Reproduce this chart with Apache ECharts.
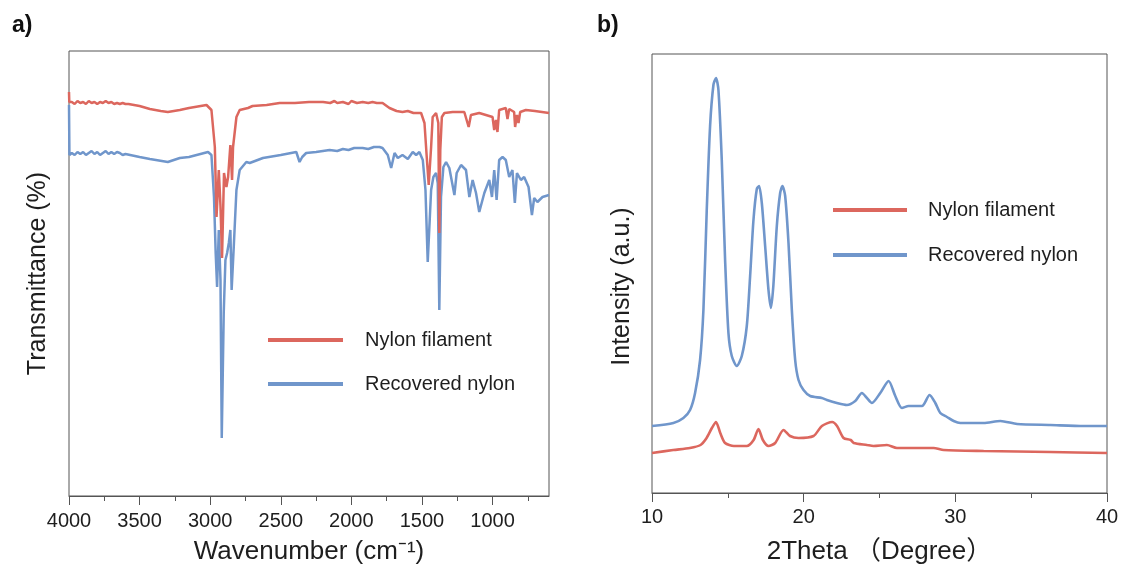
<!DOCTYPE html>
<html>
<head>
<meta charset="utf-8">
<script src="https://cdn.jsdelivr.net/npm/echarts@6/dist/echarts.min.js"></script>
<style>html,body{margin:0;padding:0;background:#fff;}#c{width:1123px;height:570px;}</style>
</head>
<body>
<div id="c"></div>
<script>
// ---------- DATA ----------
// FTIR panel (a): [wavenumber cm-1, transmittance (a.u.)]
var ftirNylonFilament = [
  [4000,404],[3998,394],[3980,394],[3960,392],[3940,395],[3920,393],[3900,394],[3880,392],[3860,395],[3840,393],
  [3820,394],[3800,392],[3780,394],[3760,393],[3740,395],[3720,393],[3700,394],[3680,392],[3660,393],[3640,392],
  [3620,393],[3600,392],[3579,392],[3500,390],[3427,387],[3350,385],[3300,384],[3215,386],[3150,388],[3026,391],
  [2991,386],[2967,349],[2955,279],[2939,326],[2927,290],[2916,238],[2902,323],[2885,309],[2873,319],[2857,351],
  [2845,316],[2838,349],[2814,379],[2791,386],[2732,388],[2720,387],[2700,390],[2600,391],[2508,393],[2400,393],
  [2300,394],[2200,394],[2150,393],[2120,395],[2100,393],[2060,394],[2020,392],[2000,395],[1960,393],[1920,394],
  [1880,393],[1850,394],[1820,393],[1779,393],[1730,388],[1680,385],[1638,384],[1600,385],[1560,383],[1506,383],
  [1482,373],[1466,339],[1452,311],[1435,349],[1424,379],[1400,383],[1384,373],[1377,263],[1370,346],[1359,379],
  [1341,383],[1282,384],[1200,384],[1169,369],[1153,381],[1094,383],[1000,379],[988,366],[976,376],[965,364],
  [953,386],[906,388],[894,377],[882,387],[847,384],[840,369],[827,381],[816,373],[804,384],[764,386],
  [700,385],[600,383]
];
var ftirRecoveredNylon = [
  [4000,391],[3997,341],[3980,343],[3960,341],[3940,344],[3920,342],[3900,344],[3880,341],[3860,343],[3840,345],
  [3820,342],[3800,344],[3780,341],[3760,343],[3740,345],[3720,342],[3700,344],[3680,342],[3660,344],[3640,343],
  [3620,341],[3600,342],[3500,339],[3427,337],[3300,334],[3215,338],[3150,339],[3015,344],[2991,341],[2973,299],
  [2961,243],[2951,209],[2939,266],[2927,216],[2918,58],[2904,183],[2892,236],[2880,243],[2868,253],[2857,266],
  [2848,206],[2833,249],[2814,306],[2791,326],[2744,334],[2720,333],[2626,338],[2500,341],[2390,344],[2367,334],
  [2348,339],[2320,343],[2250,344],[2154,346],[2100,345],[2060,347],[2020,346],[1980,348],[1920,348],[1880,347],
  [1840,349],[1800,349],[1779,348],[1742,341],[1718,328],[1694,343],[1671,338],[1638,341],[1600,337],[1565,344],
  [1541,341],[1518,344],[1494,336],[1475,306],[1459,234],[1447,234],[1435,306],[1419,319],[1400,323],[1388,313],
  [1377,186],[1365,299],[1348,329],[1329,334],[1306,328],[1270,301],[1254,323],[1223,331],[1188,326],[1164,299],
  [1141,316],[1117,303],[1094,284],[1058,303],[1023,316],[1004,299],[988,326],[971,296],[953,336],[929,339],
  [906,336],[882,319],[859,326],[842,293],[827,323],[799,316],[776,319],[745,309],[721,281],[705,298],
  [682,294],[646,299],[600,301]
];
// XRD panel (b): [2theta degree, intensity (a.u.)]
var xrdNylonFilament = [
  [10.0,40],[11.4,43],[12.5,45],[13.2,48],[13.6,55],[13.95,65],[14.22,71],[14.5,60],[14.82,50],[15.4,47],
  [16.25,47],[16.7,53],[17.02,64],[17.31,53],[17.68,47],[18.12,50],[18.67,63],[19.1,57],[19.66,55],[20.65,57],
  [21.2,67],[21.88,71],[22.2,67],[22.63,55],[23.1,53],[23.3,50],[24.17,48],[24.6,47],[25.49,48],[26.15,45],
  [28.57,45],[29.23,43],[31.87,42],[36.27,41],[40.0,40]
];
var xrdRecoveredNylon = [
  [10.0,67],[11.41,70],[12.07,75],[12.51,83],[12.84,100],[13.17,133],[13.39,183],[13.61,283],[13.83,367],[14.05,408],
  [14.22,415],[14.38,403],[14.6,333],[14.82,233],[15.04,160],[15.26,137],[15.59,127],[15.92,137],[16.25,167],[16.47,217],
  [16.69,273],[16.91,304],[17.06,307],[17.24,290],[17.46,247],[17.68,203],[17.84,185],[18.0,207],[18.23,267],[18.45,300],
  [18.6,307],[18.78,297],[19.0,250],[19.22,183],[19.44,133],[19.66,113],[19.99,103],[20.43,97],[21.2,95],[21.53,93],
  [22.19,90],[22.85,88],[23.4,92],[23.84,100],[24.17,95],[24.5,90],[25.05,100],[25.6,112],[26.04,97],[26.48,85],
  [26.92,87],[27.8,87],[28.3,98],[28.68,90],[29.01,80],[29.45,76],[29.89,72],[30.33,70],[31.87,70],[32.97,72],
  [34.07,69],[36.27,68],[38.47,67],[40.0,67]
];
// Tick labels
var ftirMajorTicks = [4000,3500,3000,2500,2000,1500,1000];
var ftirMinorTicks = [3750,3250,2750,2250,1750,1250,750];
var xrdTicks = [10,20,30,40];
var legendNames = ['Nylon filament','Recovered nylon'];

// ---------- CHART ----------
var RED = '#DC675E', BLUE = '#7096CB', AXIS = '#555555', TXT = '#1e1e1e';
var FONT = "'Liberation Sans', Arial, 'Noto Sans CJK SC', sans-serif";
var chart = echarts.init(document.getElementById('c'), null, {renderer:'canvas'});

var option = {
  backgroundColor:'#ffffff',
  animation:false,
  textStyle:{fontFamily:FONT},
  graphic:[
    {type:'text', left:12, top:14, style:{text:'a)', font:"bold 23px 'Liberation Sans', Arial, sans-serif", fill:'#111'}},
    {type:'text', left:597, top:14, style:{text:'b)', font:"bold 23px 'Liberation Sans', Arial, sans-serif", fill:'#111'}}
  ],
  grid:[
    {left:69, right:574, top:51, bottom:74, show:true, borderColor:AXIS, borderWidth:1, backgroundColor:'transparent'},
    {left:652, right:16, top:54, bottom:77, show:true, borderColor:AXIS, borderWidth:1, backgroundColor:'transparent'}
  ],
  legend:[
    {data:legendNames, orient:'vertical', left:263, top:325, icon:'rect', itemWidth:75, itemHeight:4, itemGap:24,
     selectedMode:false, textStyle:{fontSize:20, lineHeight:20, color:TXT, fontFamily:FONT, padding:[0,0,0,17]}},
    {data:legendNames, orient:'vertical', left:828, top:195, icon:'rect', itemWidth:74, itemHeight:4, itemGap:25,
     selectedMode:false, textStyle:{fontSize:20, lineHeight:20, color:TXT, fontFamily:FONT, padding:[0,0,0,16]}}
  ],
  xAxis:[
    {gridIndex:0, type:'value', min:600, max:4000, inverse:true, position:'bottom',
     axisLine:{show:true, lineStyle:{color:AXIS, width:1}},
     axisTick:{show:true, inside:false, length:9, customValues:ftirMajorTicks, lineStyle:{color:AXIS, width:1}},
     axisLabel:{show:true, customValues:ftirMajorTicks, fontSize:20, color:TXT, margin:15, fontFamily:FONT,
       formatter:function(v){ return String(v); }},
     splitLine:{show:false},
     name:'Wavenumber (cm\u207B\u00B9)', nameLocation:'middle', nameGap:43, nameMoveOverlap:false,
     nameTextStyle:{fontSize:26, color:TXT, fontFamily:FONT, lineHeight:26}},
    {gridIndex:0, type:'value', min:600, max:4000, inverse:true, position:'bottom',
     axisLine:{show:false},
     axisTick:{show:true, inside:false, length:5, customValues:ftirMinorTicks, lineStyle:{color:AXIS, width:1}},
     axisLabel:{show:false}, splitLine:{show:false}},
    {gridIndex:1, type:'value', min:10, max:40, interval:10, position:'bottom',
     axisLine:{show:true, lineStyle:{color:AXIS, width:1}},
     axisTick:{show:true, inside:false, length:9, lineStyle:{color:AXIS, width:1}},
     minorTick:{show:true, splitNumber:2, length:5, lineStyle:{color:AXIS, width:1}},
     axisLabel:{show:true, fontSize:20, color:TXT, margin:14, fontFamily:FONT,
       formatter:function(v){ return xrdTicks.indexOf(v) >= 0 ? String(v) : ''; }},
     splitLine:{show:false}, minorSplitLine:{show:false},
     name:'2Theta \uFF08Degree\uFF09', nameLocation:'middle', nameGap:46, nameMoveOverlap:false,
     nameTextStyle:{fontSize:26, color:TXT, fontFamily:FONT, lineHeight:26}}
  ],
  yAxis:[
    {gridIndex:0, type:'value', min:0, max:445, axisLine:{show:false}, axisTick:{show:false}, axisLabel:{show:false}, splitLine:{show:false},
     name:'Transmittance (%)', nameLocation:'middle', nameRotate:90, nameGap:18,
     nameTextStyle:{fontSize:25, color:TXT, fontFamily:FONT, lineHeight:25}},
    {gridIndex:1, type:'value', min:0, max:439, axisLine:{show:false}, axisTick:{show:false}, axisLabel:{show:false}, splitLine:{show:false},
     name:'Intensity (a.u.)', nameLocation:'middle', nameRotate:90, nameGap:17,
     nameTextStyle:{fontSize:25, color:TXT, fontFamily:FONT, lineHeight:25, padding:[0,26,0,0]}}
  ],
  series:[
    {name:'Recovered nylon', type:'line', xAxisIndex:0, yAxisIndex:0, data:ftirRecoveredNylon, showSymbol:false, symbol:'none',
     lineStyle:{color:BLUE, width:2.5}, itemStyle:{color:BLUE}, z:2},
    {name:'Nylon filament', type:'line', xAxisIndex:0, yAxisIndex:0, data:ftirNylonFilament, showSymbol:false, symbol:'none',
     lineStyle:{color:RED, width:2.5}, itemStyle:{color:RED}, z:3},
    {name:'Recovered nylon', type:'line', xAxisIndex:2, yAxisIndex:1, data:xrdRecoveredNylon, showSymbol:false, symbol:'none', smooth:0.25,
     lineStyle:{color:BLUE, width:2.6}, itemStyle:{color:BLUE}, z:2},
    {name:'Nylon filament', type:'line', xAxisIndex:2, yAxisIndex:1, data:xrdNylonFilament, showSymbol:false, symbol:'none', smooth:0.25,
     lineStyle:{color:RED, width:2.6}, itemStyle:{color:RED}, z:3}
  ]
};
chart.setOption(option);
</script>
</body>
</html>
